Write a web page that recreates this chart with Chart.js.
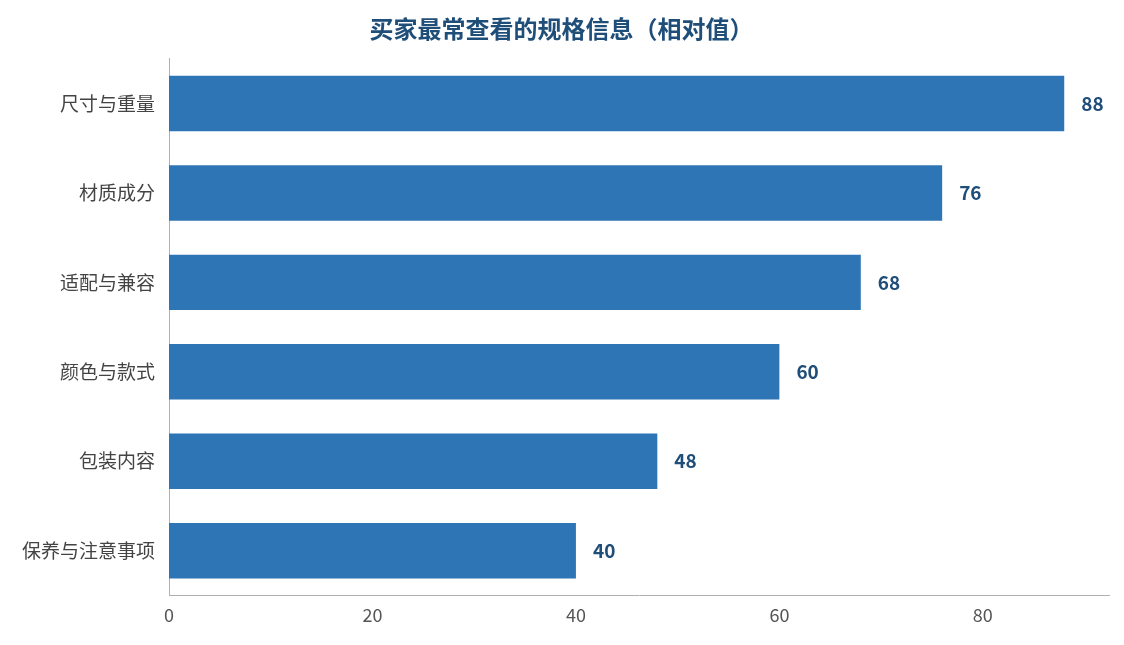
<!DOCTYPE html>
<html><head><meta charset="utf-8">
<script src="https://cdn.jsdelivr.net/npm/chart.js@4"></script>
<style>html,body{margin:0;background:#fff}#w{width:1124px;height:645px}</style>
</head><body><div id="w"><canvas id="c"></canvas></div>
<script>
const categories = ["尺寸与重量","材质成分","适配与兼容","颜色与款式","包装内容","保养与注意事项"];
const values = [88,76,68,60,48,40];
const titleText = "买家最常查看的规格信息（相对值）";
const F = "'Noto Sans CJK SC','Noto Sans',sans-serif";
const labelPlugin = {
  id:'lbl',
  afterDatasetsDraw(chart){
    const ctx = chart.ctx, meta = chart.getDatasetMeta(0);
    ctx.save();
    ctx.font = "bold 19px " + F; ctx.fillStyle = "#1f4e79";
    ctx.textBaseline = "middle"; ctx.textAlign = "left";
    meta.data.forEach((b,i)=>ctx.fillText(values[i], b.x + 17, b.y));
    ctx.restore();
  }
};
new Chart(document.getElementById('c'), {
  type:'bar',
  data:{labels:categories, datasets:[{data:values, backgroundColor:'#2e75b6', barPercentage:0.62, categoryPercentage:1}]},
  options:{
    indexAxis:'y', responsive:true, maintainAspectRatio:false, animation:false,
    layout:{padding:{left:14,right:15,top:6,bottom:16}},
    plugins:{legend:{display:false}, tooltip:{enabled:false},
      title:{display:true, text:titleText, color:'#1f4e79', font:{family:F, size:24, weight:'bold'}, padding:{top:8,bottom:16}}},
    scales:{
      x:{min:0, max:92.4, grid:{display:false, drawTicks:true, tickLength:6, color:'#b0b0b0'}, border:{color:'#b0b0b0'},
         ticks:{stepSize:20, color:'#555', font:{family:F, size:18}, callback:v=> v%20===0 ? v : ''}},
      y:{grid:{display:false, drawTicks:true, tickLength:6, color:'#b0b0b0'}, border:{color:'#b0b0b0'},
         ticks:{color:'#444', font:{family:F, size:19}, padding:8}}
    }
  },
  plugins:[labelPlugin]
});
</script></body></html>
